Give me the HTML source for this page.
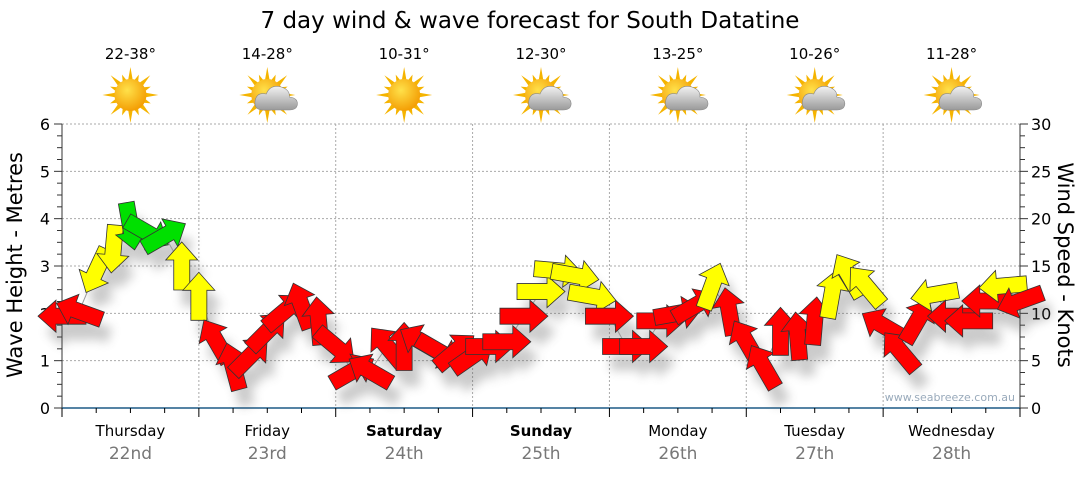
<!DOCTYPE html>
<html><head><meta charset="utf-8"><style>
body{margin:0;background:#fff;width:1080px;height:475px;overflow:hidden;font-family:"Liberation Sans","DejaVu Sans",sans-serif}
svg text{font-family:"DejaVu Sans","Liberation Sans",sans-serif}
</style></head><body>
<svg id="c" width="1080" height="475">
<defs>
<radialGradient id="sunG" cx="0.4" cy="0.35" r="0.7"><stop offset="0" stop-color="#ffe14a"/><stop offset="1" stop-color="#f39a00"/></radialGradient>
<linearGradient id="cloudG" x1="0" y1="0" x2="0" y2="1"><stop offset="0" stop-color="#f2f2f2"/><stop offset="1" stop-color="#9a9a9a"/></linearGradient>
<filter id="sh" x="-50%" y="-50%" width="200%" height="200%"><feGaussianBlur stdDeviation="5"/></filter>
</defs>
<text x="530" y="28" text-anchor="middle" font-size="23" fill="#000">7 day wind &amp; wave forecast for South Datatine</text>
<g id="grid"></g><g id="axes"></g><g id="icons"></g>
<g id="shadows" filter="url(#sh)" opacity="0.3"></g>
<path id="windline" fill="none" stroke="#999" stroke-width="1"></path>
<g id="arrows"></g>
<text x="1015" y="401" text-anchor="end" font-size="11" fill="#9ab">www.seabreeze.com.au</text>
<text transform="translate(22,265) rotate(-90)" text-anchor="middle" font-size="21">Wave Height - Metres</text>
<text transform="translate(1058,265) rotate(90)" text-anchor="middle" font-size="21">Wind Speed - Knots</text>
</svg>
<script>
const days=["Thursday","Friday","Saturday","Sunday","Monday","Tuesday","Wednesday"];
const dates=["22nd","23rd","24th","25th","26th","27th","28th"];
const boldDays=[false,false,true,true,false,false,false];
const temps=["22-38°","14-28°","10-31°","12-30°","13-25°","10-26°","11-28°"];
const cloudy=[false,true,false,true,true,true,true];
const waveTicks=[0,1,2,3,4,5,6];
const windTicks=[0,5,10,15,20,25,30];
// wind speed (knots) every 3 hours
const windKnots=[9.7,10.2,14.5,16.8,19.2,18.5,18.2,15,11.8,7.1,4.4,5.5,8.1,10.2,10.8,9.2,6.5,3.9,3.9,6.5,6.5,7,6,6,5.5,6.5,7,9.7,12.3,14.5,14,11.8,9.7,6.5,6.5,9.2,10,10.8,12.9,10.2,7,4.4,8.1,7.6,9.2,12,14,12.9,8.7,6,9.2,12,9.7,9.2,11.3,12.9,11.3];
// arrow pointing direction (screen degrees, 0=right, 90=down)
const windDir=[180,200,115,95,80,30,-30,-90,-90,-120,-105,-45,-45,-40,-110,-95,40,-30,-150,-130,-90,-150,30,-40,-35,0,0,0,0,5,10,10,0,0,0,0,-10,-30,-70,-100,-120,-120,-90,-95,-85,-80,-120,-130,-150,-130,-60,170,180,180,180,175,160];
const X0=62,X1=1020,Y0=408,Y1=124;
const dayW=(X1-X0)/7;
const xOf=i=>X0+i*dayW/8;
const yWave=v=>Y0-(v/6)*(Y0-Y1);
const yWind=v=>Y0-(v/30)*(Y0-Y1);
const NS="http://www.w3.org/2000/svg";
function mk(t,a,p){const e=document.createElementNS(NS,t);for(const k in a)e.setAttribute(k,a[k]);p.appendChild(e);return e;}
const grid=document.getElementById('grid'),axes=document.getElementById('axes'),icons=document.getElementById('icons');
waveTicks.forEach(v=>{
 if(v>0){const g=mk('line',{x1:X0,x2:X1,y1:yWave(v),y2:yWave(v),stroke:'#aaa','stroke-dasharray':'2,2'},grid);
 
 }
 const t=mk('text',{x:50,y:yWave(v)+6,'text-anchor':'end','font-size':16},axes);t.textContent=v;
 
 
});
for(let m=0;m<=24;m++){const y=Y0-m*(Y0-Y1)/24;mk('line',{x1:X0-(m%4?5:8),x2:X0,y1:y,y2:y,stroke:'#333'},axes);
 mk('line',{x1:X1,x2:X1+(m%4?5:8),y1:y,y2:y,stroke:'#333'},axes);}
windTicks.forEach(v=>{const t=mk('text',{x:1031,y:yWind(v)+6,'font-size':16},axes);t.textContent=v;
 
 });
mk('line',{x1:X0,x2:X0,y1:Y1,y2:Y0,stroke:'#333'},axes);
mk('line',{x1:X1,x2:X1,y1:Y1,y2:Y0,stroke:'#333'},axes);
mk('line',{x1:X0,x2:X1,y1:Y0,y2:Y0,stroke:'#1d5a85','stroke-width':1.5},axes);
for(let q=0;q<=28;q++){const x=X0+q*dayW/4;mk('line',{x1:x,x2:x,y1:Y0,y2:Y0+(q%4?5:9),stroke:'#000'},axes);}
days.forEach((d,i)=>{
 const cx=X0+(i+0.5)*dayW;
 if(i>0){const g=mk('line',{x1:X0+i*dayW,x2:X0+i*dayW,y1:Y1,y2:Y0,stroke:'#aaa','stroke-dasharray':'2,2'},grid);
 
 }
 const t=mk('text',{x:cx,y:436,'text-anchor':'middle','font-size':15,'font-weight':boldDays[i]?'bold':'normal'},axes);t.textContent=d;
 
 
 const t2=mk('text',{x:cx,y:459,'text-anchor':'middle','font-size':17,fill:'#777'},axes);t2.textContent=dates[i];
 
 
 const t3=mk('text',{x:cx,y:59,'text-anchor':'middle','font-size':15},icons);t3.textContent=temps[i];
 
 
 const g=mk('g',{},icons);
 
 
 for(let r=0;r<16;r++){const a=r*Math.PI/8,L=r%2?22:28;
  mk('polygon',{points:`${cx+Math.cos(a)*L},${95+Math.sin(a)*L} ${cx+Math.cos(a+0.18)*14},${95+Math.sin(a+0.18)*14} ${cx+Math.cos(a-0.18)*14},${95+Math.sin(a-0.18)*14}`,fill:'#f5b400'},g);}
 mk('circle',{cx:cx,cy:95,r:16,fill:'url(#sunG)'},g);
 if(cloudy[i]){mk('path',{d:`M${cx-4},${110} q-10,0 -8,-10 q2,-8 11,-6 q4,-10 15,-7 q9,3 8,10 q9,1 8,8 q-1,5 -8,5 z`,fill:'url(#cloudG)',stroke:'#888','stroke-width':0.6},g);}
});
// wind line
let d='';windKnots.forEach((v,i)=>{d+=(i?'L':'M')+xOf(i)+','+yWind(v)+' ';});
document.getElementById('windline').setAttribute('d',d);
const arrowPts="-24,-8 6,-8 6,-16 24,0 6,16 6,8 -24,8";
const sh=document.getElementById('shadows'),ag=document.getElementById('arrows');
windKnots.forEach((v,i)=>{
 const x=xOf(i),y=yWind(v),col=v>=17.5?'#00e000':(v>=11.5?'#ffff00':'#ff0000');
 mk('polygon',{points:arrowPts,fill:'#555',transform:`translate(${x+8},${y+16}) rotate(${windDir[i]})`},sh);
 const p=mk('polygon',{points:arrowPts,fill:col,stroke:'#333','stroke-width':0.8,transform:`translate(${x},${y}) rotate(${windDir[i]})`},ag);
 
 
});
</script>
</body></html>
